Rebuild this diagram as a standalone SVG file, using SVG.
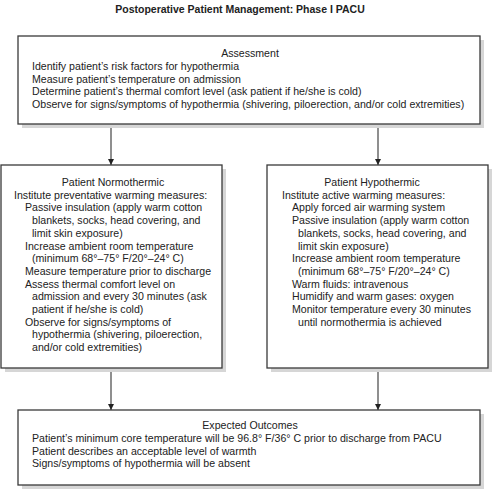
<svg xmlns="http://www.w3.org/2000/svg" width="494" height="490" viewBox="0 0 494 490">
<defs>
<marker id="arr" viewBox="0 0 6 6" refX="6" refY="3" markerWidth="6" markerHeight="6" markerUnits="userSpaceOnUse" orient="auto">
<path d="M0,0 L6,3 L0,6 z" fill="#222"/>
</marker>
</defs>
<style>
text{font-family:"Liberation Sans",Arial,sans-serif;font-size:10.6px;fill:#222}
.title{font-weight:bold;font-size:10.5px}
.c{text-anchor:middle}
.box{fill:#fff;stroke:#3a3a3a;stroke-width:1.3}
.sh{fill:#d6d6d6}
.ln{stroke:#333;stroke-width:1.1;fill:none}
</style>
<rect width="494" height="490" fill="#fff"/>
<text class="title c" x="240" y="13">Postoperative Patient Management: Phase I PACU</text>
<g id="connectors">
<line class="ln" x1="111" y1="124" x2="111" y2="165" marker-end="url(#arr)"/>
<line class="ln" x1="378" y1="124" x2="378" y2="165" marker-end="url(#arr)"/>
<line class="ln" x1="111" y1="368" x2="111" y2="410" marker-end="url(#arr)"/>
<line class="ln" x1="378" y1="368" x2="378" y2="410" marker-end="url(#arr)"/>
</g>
<g id="assessment">
<rect class="sh" x="22" y="40" width="462" height="88"/>
<rect class="box" x="18" y="36" width="462" height="88"/>
<text class="c" x="250" y="57">Assessment</text>
<text x="32" y="70">Identify patient’s risk factors for hypothermia</text>
<text x="32" y="82.5">Measure patient’s temperature on admission</text>
<text x="32" y="95">Determine patient’s thermal comfort level (ask patient if he/she is cold)</text>
<text x="32" y="107.5">Observe for signs/symptoms of hypothermia (shivering, piloerection, and/or cold extremities)</text>
</g>
<g id="normothermic">
<rect class="sh" x="5" y="169" width="221" height="203"/>
<rect class="box" x="1" y="165" width="221" height="203"/>
<text class="c" x="113" y="186">Patient Normothermic</text>
<text x="14" y="198.7">Institute preventative warming measures:</text>
<text x="25" y="211.4">Passive insulation (apply warm cotton</text>
<text x="32" y="224.1">blankets, socks, head covering, and</text>
<text x="32" y="236.8">limit skin exposure)</text>
<text x="25" y="249.5">Increase ambient room temperature</text>
<text x="32" y="262.2">(minimum 68°–75° F/20°–24° C)</text>
<text x="25" y="274.9">Measure temperature prior to discharge</text>
<text x="25" y="287.6">Assess thermal comfort level on</text>
<text x="32" y="300.3">admission and every 30 minutes (ask</text>
<text x="32" y="313">patient if he/she is cold)</text>
<text x="25" y="325.7">Observe for signs/symptoms of</text>
<text x="32" y="338.4">hypothermia (shivering, piloerection,</text>
<text x="32" y="351.1">and/or cold extremities)</text>
</g>
<g id="hypothermic">
<rect class="sh" x="271" y="169" width="221" height="203"/>
<rect class="box" x="267" y="165" width="221" height="203"/>
<text class="c" x="372" y="186">Patient Hypothermic</text>
<text x="282" y="198.7">Institute active warming measures:</text>
<text x="292" y="211.4">Apply forced air warming system</text>
<text x="292" y="224.1">Passive insulation (apply warm cotton</text>
<text x="298" y="236.8">blankets, socks, head covering, and</text>
<text x="298" y="249.5">limit skin exposure)</text>
<text x="292" y="262.2">Increase ambient room temperature</text>
<text x="298" y="274.9">(minimum 68°–75° F/20°–24° C)</text>
<text x="292" y="287.6">Warm fluids: intravenous</text>
<text x="292" y="300.3">Humidify and warm gases: oxygen</text>
<text x="292" y="313">Monitor temperature every 30 minutes</text>
<text x="298" y="325.7">until normothermia is achieved</text>
</g>
<g id="outcomes">
<rect class="sh" x="22" y="414" width="462" height="75"/>
<rect class="box" x="18" y="410" width="462" height="75"/>
<text class="c" x="250" y="429">Expected Outcomes</text>
<text x="32" y="442">Patient’s minimum core temperature will be 96.8° F/36° C prior to discharge from PACU</text>
<text x="32" y="454.7">Patient describes an acceptable level of warmth</text>
<text x="32" y="467.4">Signs/symptoms of hypothermia will be absent</text>
</g>
</svg>
